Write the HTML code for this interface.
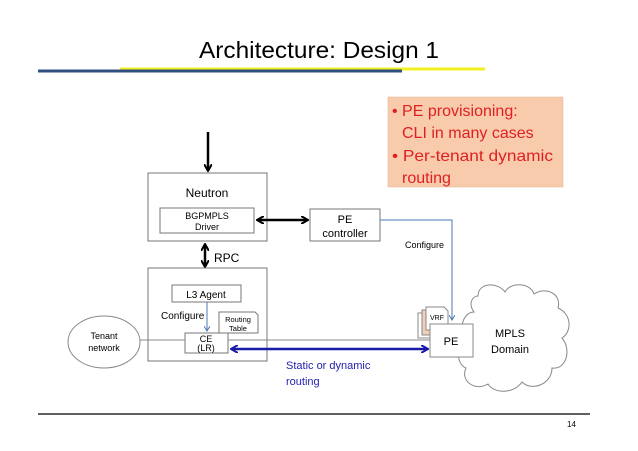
<!DOCTYPE html>
<html><head><style>
html,body{margin:0;padding:0;background:#fff;}
svg{display:block;font-family:"Liberation Sans",sans-serif;}
</style></head><body>
<svg width="638" height="451" viewBox="0 0 638 451" xmlns="http://www.w3.org/2000/svg">
<defs>
<marker id="ab" markerWidth="8" markerHeight="8" refX="6" refY="4" orient="auto-start-reverse" markerUnits="userSpaceOnUse"><path d="M0,0 L7,4 L0,8" fill="none" stroke="#000" stroke-width="2"/></marker>
<marker id="abl" markerWidth="8" markerHeight="8" refX="6" refY="4" orient="auto-start-reverse" markerUnits="userSpaceOnUse"><path d="M0,0 L7,4 L0,8" fill="none" stroke="#1a1aa8" stroke-width="2"/></marker>
<marker id="as" markerWidth="6" markerHeight="6" refX="5" refY="3" orient="auto" markerUnits="userSpaceOnUse"><path d="M0,0 L5,3 L0,6" fill="none" stroke="#4a7ab5" stroke-width="1"/></marker>
</defs>
<text x="319" y="58" font-size="23" text-anchor="middle" fill="#000" textLength="240" lengthAdjust="spacingAndGlyphs">Architecture: Design 1</text>
<line x1="120" y1="69" x2="485" y2="69" stroke="#f0f020" stroke-width="3"/>
<line x1="38" y1="71" x2="402" y2="71" stroke="#2f4f80" stroke-width="3"/>
<rect x="388" y="97" width="175" height="90" fill="#f8cbad" stroke="#e0b090" stroke-width="0.5"/>
<g fill="#e02020" font-size="16">
<text x="392" y="116">• PE provisioning:</text>
<text x="402" y="138">CLI in many cases</text>
<text x="392" y="161" textLength="161" lengthAdjust="spacingAndGlyphs">• Per-tenant dynamic</text>
<text x="402" y="183">routing</text>
</g>
<line x1="208" y1="132" x2="208" y2="170" stroke="#000" stroke-width="2.5" marker-end="url(#ab)"/>
<rect x="148" y="173" width="119" height="68" fill="#fff" stroke="#777"/>
<text x="207" y="197" font-size="12" text-anchor="middle">Neutron</text>
<rect x="160" y="208" width="94" height="25" fill="#fff" stroke="#777"/>
<text x="207" y="219" font-size="9" text-anchor="middle">BGPMPLS</text>
<text x="207" y="230" font-size="9" text-anchor="middle">Driver</text>
<line x1="258" y1="220" x2="307" y2="220" stroke="#000" stroke-width="2.5" marker-start="url(#ab)" marker-end="url(#ab)"/>
<rect x="310" y="209" width="70" height="32" fill="#fff" stroke="#777"/>
<text x="345" y="223" font-size="11" text-anchor="middle">PE</text>
<text x="345" y="237" font-size="11" text-anchor="middle">controller</text>
<polyline points="380,220 452,220 452,320" fill="none" stroke="#4a7ab5" stroke-width="1" marker-end="url(#as)"/>
<text x="405" y="248" font-size="9">Configure</text>
<line x1="205" y1="245" x2="205" y2="266" stroke="#000" stroke-width="2.5" marker-start="url(#ab)" marker-end="url(#ab)"/>
<text x="214" y="262" font-size="12">RPC</text>
<rect x="148" y="268" width="119" height="93" fill="#fff" stroke="#777"/>
<rect x="172" y="285" width="69" height="17" fill="#fff" stroke="#777"/>
<text x="206" y="298" font-size="10" text-anchor="middle">L3 Agent</text>
<text x="161" y="319" font-size="10">Configure</text>
<line x1="207" y1="302" x2="207" y2="331" stroke="#4a7ab5" stroke-width="1" marker-end="url(#as)"/>
<path d="M219,312 H255 L258,315 V333 H219 Z" fill="#fff" stroke="#777"/>
<text x="238" y="322" font-size="7.5" text-anchor="middle">Routing</text>
<text x="238" y="331" font-size="7.5" text-anchor="middle">Table</text>
<rect x="185" y="333" width="43" height="20" fill="#fff" stroke="#777"/>
<text x="206" y="342" font-size="9" text-anchor="middle">CE</text>
<text x="206" y="351" font-size="9" text-anchor="middle">(LR)</text>
<ellipse cx="104" cy="342" rx="36" ry="26" fill="#fff" stroke="#888"/>
<text x="104" y="339" font-size="9" text-anchor="middle">Tenant</text>
<text x="104" y="351" font-size="9" text-anchor="middle">network</text>
<line x1="140" y1="340" x2="185" y2="340" stroke="#888"/>
<line x1="228" y1="340" x2="430" y2="340" stroke="#888"/>
<line x1="232" y1="349" x2="427" y2="349" stroke="#1a1aa8" stroke-width="2.5" marker-start="url(#abl)" marker-end="url(#abl)"/>
<text x="286" y="369" font-size="11" fill="#2222b0">Static or dynamic</text>
<text x="286" y="385" font-size="11" fill="#2222b0">routing</text>
<path d="M478,296 C478,282 498,282 505,292 C510,282 530,282 534,294 C546,286 562,294 558,308 C572,314 572,332 562,338 C572,350 566,370 552,368 C552,384 532,392 522,382 C514,394 494,394 488,384 C474,392 460,380 466,368 C456,364 456,346 466,342 C458,332 462,312 474,312 C468,304 472,296 478,296 Z" fill="#fff" stroke="#888"/>
<text x="510" y="337" font-size="11" text-anchor="middle">MPLS</text>
<text x="510" y="353" font-size="11" text-anchor="middle">Domain</text>
<rect x="418" y="313" width="22" height="25" fill="#fff" stroke="#888"/>
<rect x="422" y="310" width="22" height="25" fill="#f0d0b8" stroke="#888"/>
<path d="M426,307 H444 L448,311 V330 H426 Z" fill="#fff" stroke="#888"/>
<text x="437" y="320" font-size="7" text-anchor="middle">VRF</text>
<rect x="430" y="324" width="43" height="33" fill="#fff" stroke="#888"/>
<text x="451" y="345" font-size="11" text-anchor="middle">PE</text>
<line x1="38" y1="414" x2="590" y2="414" stroke="#000" stroke-width="1.2"/>
<text x="567" y="427" font-size="8">14</text>
</svg>
</body></html>
